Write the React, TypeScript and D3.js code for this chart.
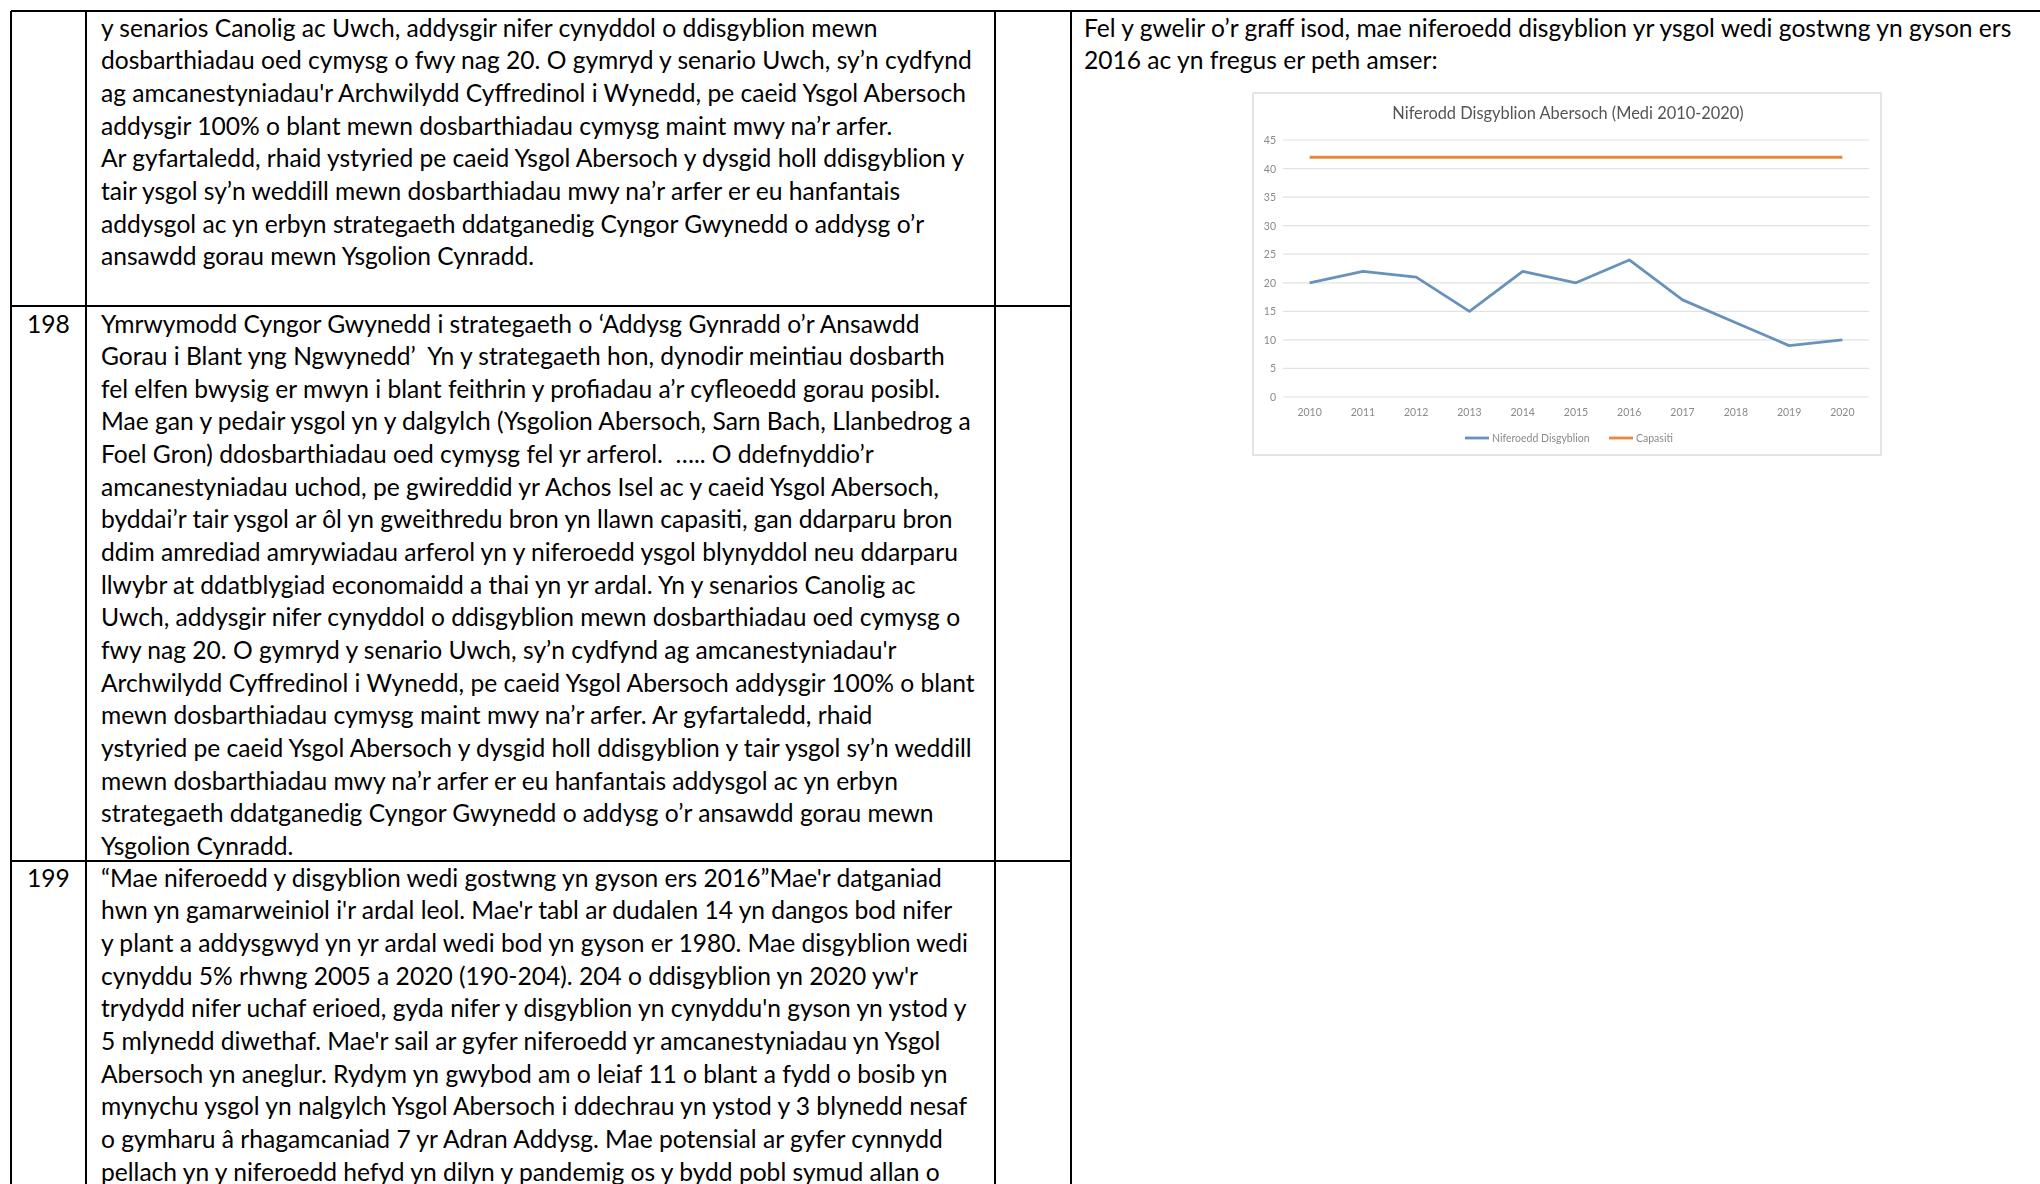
import React, { useLayoutEffect, useRef, useState } from 'react';
import * as d3 from 'd3';

// ---------- chart data ----------
const years = ['2010', '2011', '2012', '2013', '2014', '2015', '2016', '2017', '2018', '2019', '2020'];
const pupils = [20, 22, 21, 15, 22, 20, 24, 17, 13, 9, 10];
const capacity = [42, 42, 42, 42, 42, 42, 42, 42, 42, 42, 42];
const yTicks = [0, 5, 10, 15, 20, 25, 30, 35, 40, 45];
const chartTitle = 'Niferodd Disgyblion Abersoch (Medi 2010-2020)';
const seriesNames = ['Niferoedd Disgyblion', 'Capasiti'];
const seriesColors = ['#6891bb', '#e8873c'];

// ---------- document text ----------
const rowNumbers = ['', '198', '199'];
const row1Lines = [
  'y senarios Canolig ac Uwch, addysgir nifer cynyddol o ddisgyblion mewn',
  'dosbarthiadau oed cymysg o fwy nag 20. O gymryd y senario Uwch, sy’n cydfynd',
  "ag amcanestyniadau'r Archwilydd Cyffredinol i Wynedd, pe caeid Ysgol Abersoch",
  'addysgir 100% o blant mewn dosbarthiadau cymysg maint mwy na’r arfer.',
  'Ar gyfartaledd, rhaid ystyried pe caeid Ysgol Abersoch y dysgid holl ddisgyblion y',
  'tair ysgol sy’n weddill mewn dosbarthiadau mwy na’r arfer er eu hanfantais',
  'addysgol ac yn erbyn strategaeth ddatganedig Cyngor Gwynedd o addysg o’r',
  'ansawdd gorau mewn Ysgolion Cynradd.',
];
const row198Lines = [
  'Ymrwymodd Cyngor Gwynedd i strategaeth o ‘Addysg Gynradd o’r Ansawdd',
  'Gorau i Blant yng Ngwynedd’  Yn y strategaeth hon, dynodir meintiau dosbarth',
  'fel elfen bwysig er mwyn i blant feithrin y profiadau a’r cyfleoedd gorau posibl.',
  'Mae gan y pedair ysgol yn y dalgylch (Ysgolion Abersoch, Sarn Bach, Llanbedrog a',
  'Foel Gron) ddosbarthiadau oed cymysg fel yr arferol.  ….. O ddefnyddio’r',
  'amcanestyniadau uchod, pe gwireddid yr Achos Isel ac y caeid Ysgol Abersoch,',
  'byddai’r tair ysgol ar ôl yn gweithredu bron yn llawn capasiti, gan ddarparu bron',
  'ddim amrediad amrywiadau arferol yn y niferoedd ysgol blynyddol neu ddarparu',
  'llwybr at ddatblygiad economaidd a thai yn yr ardal. Yn y senarios Canolig ac',
  'Uwch, addysgir nifer cynyddol o ddisgyblion mewn dosbarthiadau oed cymysg o',
  "fwy nag 20. O gymryd y senario Uwch, sy’n cydfynd ag amcanestyniadau'r",
  'Archwilydd Cyffredinol i Wynedd, pe caeid Ysgol Abersoch addysgir 100% o blant',
  'mewn dosbarthiadau cymysg maint mwy na’r arfer. Ar gyfartaledd, rhaid',
  'ystyried pe caeid Ysgol Abersoch y dysgid holl ddisgyblion y tair ysgol sy’n weddill',
  'mewn dosbarthiadau mwy na’r arfer er eu hanfantais addysgol ac yn erbyn',
  'strategaeth ddatganedig Cyngor Gwynedd o addysg o’r ansawdd gorau mewn',
  'Ysgolion Cynradd.',
];
const row199Lines = [
  "“Mae niferoedd y disgyblion wedi gostwng yn gyson ers 2016”Mae'r datganiad",
  "hwn yn gamarweiniol i'r ardal leol. Mae'r tabl ar dudalen 14 yn dangos bod nifer",
  'y plant a addysgwyd yn yr ardal wedi bod yn gyson er 1980. Mae disgyblion wedi',
  "cynyddu 5% rhwng 2005 a 2020 (190-204). 204 o ddisgyblion yn 2020 yw'r",
  "trydydd nifer uchaf erioed, gyda nifer y disgyblion yn cynyddu'n gyson yn ystod y",
  "5 mlynedd diwethaf. Mae'r sail ar gyfer niferoedd yr amcanestyniadau yn Ysgol",
  'Abersoch yn aneglur. Rydym yn gwybod am o leiaf 11 o blant a fydd o bosib yn',
  'mynychu ysgol yn nalgylch Ysgol Abersoch i ddechrau yn ystod y 3 blynedd nesaf',
  'o gymharu â rhagamcaniad 7 yr Adran Addysg. Mae potensial ar gyfer cynnydd',
  'pellach yn y niferoedd hefyd yn dilyn y pandemig os y bydd pobl symud allan o',
];
const rightLines = [
  'Fel y gwelir o’r graff isod, mae niferoedd disgyblion yr ysgol wedi gostwng yn gyson ers',
  '2016 ac yn fregus er peth amser:',
];

// ---------- layout ----------
const W = 2040;
const H = 1184;
const FONT = "Lato, 'Open Sans', 'Noto Sans', sans-serif";
const FS = 25.5;
const LH = 32.65;
const REF_TEXT = row1Lines[1];
const REF_WIDTH = 871;

const tableLeft = 11;
const colX = [86, 995, 1071];
const tableTop = 11;
const rowBorders = [306, 861];

export default function App() {
  const measRef = useRef<SVGTextElement>(null);
  const [sx, setSx] = useState(0.9);
  const [measured, setMeasured] = useState(false);

  useLayoutEffect(() => {
    if (measRef.current) {
      const w = measRef.current.getComputedTextLength();
      if (w > 0) setSx(REF_WIDTH / w);
    }
    setMeasured(true);
  }, []);

  // chart scales
  const frame = { x: 1253, y: 93, w: 628, h: 362 };
  const x = d3.scaleBand<string>().domain(years).range([1283, 1869]).padding(0);
  const y = d3.scaleLinear().domain([0, 45]).range([397, 140]);
  const cx = (d: string) => (x(d) as number) + x.bandwidth() / 2;
  const line = d3
    .line<number>()
    .x((_, i) => cx(years[i]))
    .y((v) => y(v));

  const docText = (lines: string[], x0: number, y0: number, key: string) =>
    lines.map((t, i) => (
      <text
        key={key + i}
        transform={`translate(${x0},${y0 + i * LH}) scale(${sx},1)`}
        fontFamily={FONT}
        fontSize={FS}
        fill="#000"
        style={{ whiteSpace: 'pre' }}
      >
        {t}
      </text>
    ));

  const legendX = [1465, 1609];

  return (
    <svg
      width={W}
      height={H}
      viewBox={`0 0 ${W} ${H}`}
      style={{ position: 'fixed', left: 0, top: 0, background: '#fff' }}
    >
      <defs>
        <filter id="soft" x="-2%" y="-2%" width="104%" height="104%">
          <feGaussianBlur stdDeviation="0.6" />
        </filter>
      </defs>
      <rect x={0} y={0} width={W} height={H} fill="#fff" />
      {!measured && (
        <text ref={measRef} x={200} y={600} fontFamily={FONT} fontSize={FS} fill="#fff" style={{ whiteSpace: 'pre' }}>
          {REF_TEXT}
        </text>
      )}

      {/* table borders */}
      <g stroke="#000" strokeWidth={2} shapeRendering="crispEdges">
        <line x1={tableLeft} x2={W} y1={tableTop} y2={tableTop} />
        <line x1={tableLeft} x2={tableLeft} y1={tableTop} y2={H} />
        {colX.map((c) => (
          <line key={c} x1={c} x2={c} y1={tableTop} y2={H} />
        ))}
        {rowBorders.map((r) => (
          <line key={r} x1={tableLeft} x2={colX[2]} y1={r} y2={r} />
        ))}
      </g>

      {measured && (
        <g>
          {/* row numbers */}
          {docText([rowNumbers[1]], 27, 332.5, 'n1')}
          {docText([rowNumbers[2]], 27, 886.7, 'n2')}

          {/* column text */}
          {docText(row1Lines, 101, 36.7, 'r1')}
          {docText(row198Lines, 101, 332.5, 'r2')}
          {docText(row199Lines, 101, 886.7, 'r3')}
          {docText(rightLines, 1084, 36.7, 'rc')}
        </g>
      )}

      {/* chart image */}
      <g filter="url(#soft)">
        <rect x={frame.x} y={frame.y} width={frame.w} height={frame.h} fill="#fff" stroke="#dcdcdc" strokeWidth={1.5} />
        <text
          x={1568}
          y={119}
          textAnchor="middle"
          fontFamily={FONT}
          fontSize={17}
          fill="#555"
          transform={`translate(1568,0) scale(${sx},1) translate(-1568,0)`}
        >
          {chartTitle}
        </text>
        {yTicks.map((t) => (
          <g key={t}>
            <line x1={1283} x2={1869} y1={y(t)} y2={y(t)} stroke="#e2e2e2" strokeWidth={1.2} />
            <text x={1276} y={y(t) + 4} textAnchor="end" fontFamily={FONT} fontSize={10.5} fill="#8a8a8a">
              {t}
            </text>
          </g>
        ))}
        {years.map((yr) => (
          <text key={yr} x={cx(yr)} y={416} textAnchor="middle" fontFamily={FONT} fontSize={10.5} fill="#8a8a8a">
            {yr}
          </text>
        ))}
        <path d={line(capacity) as string} fill="none" stroke={seriesColors[1]} strokeWidth={3} strokeLinejoin="round" />
        <path d={line(pupils) as string} fill="none" stroke={seriesColors[0]} strokeWidth={2.8} strokeLinejoin="round" />
        {seriesNames.map((n, i) => (
          <g key={n}>
            <line x1={legendX[i]} x2={legendX[i] + 24} y1={438} y2={438} stroke={seriesColors[i]} strokeWidth={2.8} />
            <text x={legendX[i] + 27} y={442} fontFamily={FONT} fontSize={10.5} fill="#8a8a8a">
              {n}
            </text>
          </g>
        ))}
      </g>
    </svg>
  );
}
